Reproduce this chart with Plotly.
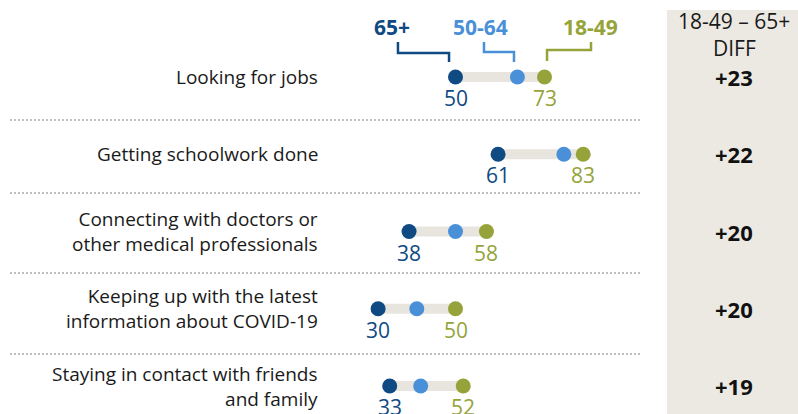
import plotly.graph_objects as go

categories = [
    "Looking for jobs",
    "Getting schoolwork done",
    "Connecting with doctors or<br>other medical professionals",
    "Keeping up with the latest<br>information about COVID-19",
    "Staying in contact with friends<br>and family",
]
age_65_plus = [50, 61, 38, 30, 33]
age_50_64 = [66, 78, 50, 40, 41]
age_18_49 = [73, 83, 58, 50, 52]
diff_labels = ["+23", "+22", "+20", "+20", "+19"]
series_names = ["65+", "50-64", "18-49"]

C65 = "#0f4a83"
C50 = "#4a90d9"
C18 = "#95a33a"
GRAYBAR = "#e8e5df"
DIFFBG = "#ece9e2"
FONT = "Open Sans"

W, H = 798, 414
x0_px = 262.0
px_per_unit = 3.87
row0_px = 77.0
row_step = 77.25

xr = [-x0_px / px_per_unit, (W - x0_px) / px_per_unit]
yr = [(H - row0_px) / row_step, -row0_px / row_step]

fig = go.Figure()

rows = list(range(len(categories)))

# connecting bars
for i in rows:
    fig.add_trace(go.Scatter(
        x=[age_65_plus[i], age_18_49[i]], y=[i, i], mode="lines",
        line=dict(color=GRAYBAR, width=10), hoverinfo="skip", showlegend=False))

for vals, col, name in [(age_65_plus, C65, series_names[0]),
                        (age_50_64, C50, series_names[1]),
                        (age_18_49, C18, series_names[2])]:
    fig.add_trace(go.Scatter(
        x=vals, y=rows, mode="markers", name=name,
        marker=dict(color=col, size=15, line=dict(width=0)), showlegend=False))

ann = []
# value labels
for i in rows:
    for vals, col in [(age_65_plus, C65), (age_18_49, C18)]:
        ann.append(dict(x=vals[i], y=i, xref="x", yref="y", text=str(vals[i]),
                        showarrow=False, yshift=-21, xanchor="center", yanchor="middle",
                        font=dict(family=FONT, size=21, color=col)))
    # category label
    ann.append(dict(x=320 / W, y=i, xref="paper", yref="y", text=categories[i],
                    xanchor="right", yanchor="middle", align="right", showarrow=False,
                    font=dict(family=FONT, size=19, color="#1a1a1a")))
    ann.append(dict(x=734 / W, y=i, xref="paper", yref="y", text="<b>%s</b>" % diff_labels[i],
                    xanchor="center", yanchor="middle", showarrow=False,
                    font=dict(family=FONT, size=22, color="#111111")))

# diff header
ann.append(dict(x=734 / W, y=1 - 21 / H, xref="paper", yref="paper", text="18-49 – 65+",
                xanchor="center", yanchor="middle",
                showarrow=False, font=dict(family=FONT, size=21, color="#1a1a1a")))
ann.append(dict(x=734 / W, y=1 - 48 / H, xref="paper", yref="paper", text="DIFF",
                xanchor="center", yanchor="middle",
                showarrow=False, font=dict(family=FONT, size=21, color="#1a1a1a")))

# legend labels
for name, col, cx in [(series_names[0], C65, 392), (series_names[1], C50, 480), (series_names[2], C18, 590)]:
    ann.append(dict(x=cx / W, y=1 - 27 / H, xref="paper", yref="paper", text="<b>%s</b>" % name,
                    xanchor="center", yanchor="middle",
                    showarrow=False, font=dict(family=FONT, size=21, color=col)))

shapes = []
# diff background
shapes.append(dict(type="rect", xref="paper", yref="paper", x0=667 / W, x1=1, y0=0, y1=1 - 10 / H,
                   fillcolor=DIFFBG, line=dict(width=0), layer="below"))
# separators
for ypx in [120, 193, 273, 354]:
    shapes.append(dict(type="line", xref="paper", yref="paper", x0=10 / W, x1=640 / W,
                       y0=1 - ypx / H, y1=1 - ypx / H,
                       line=dict(color="#aaaaaa", width=1.5, dash="2px,2px")))

# legend brackets (pixel paths)
def ppath(pts):
    s = ""
    for k, (px, py) in enumerate(pts):
        s += ("M" if k == 0 else "L") + " %.4f %.4f " % (px / W, 1 - py / H)
    return s

for pts, col in [([(398, 42), (398, 53), (449, 53), (449, 62)], C65),
                 ([(484, 42), (484, 52), (514, 52), (514, 62)], C50),
                 ([(547, 61), (547, 50), (591, 50), (591, 42)], C18)]:
    shapes.append(dict(type="path", xref="paper", yref="paper", path=ppath(pts),
                       line=dict(color=col, width=2.5)))

fig.update_layout(
    width=W, height=H,
    margin=dict(l=0, r=0, t=0, b=0),
    paper_bgcolor="white", plot_bgcolor="rgba(0,0,0,0)",
    xaxis=dict(range=xr, visible=False, fixedrange=True),
    yaxis=dict(range=yr, visible=False, fixedrange=True),
    annotations=ann, shapes=shapes,
    showlegend=False,
)

fig.write_html("out.html")
